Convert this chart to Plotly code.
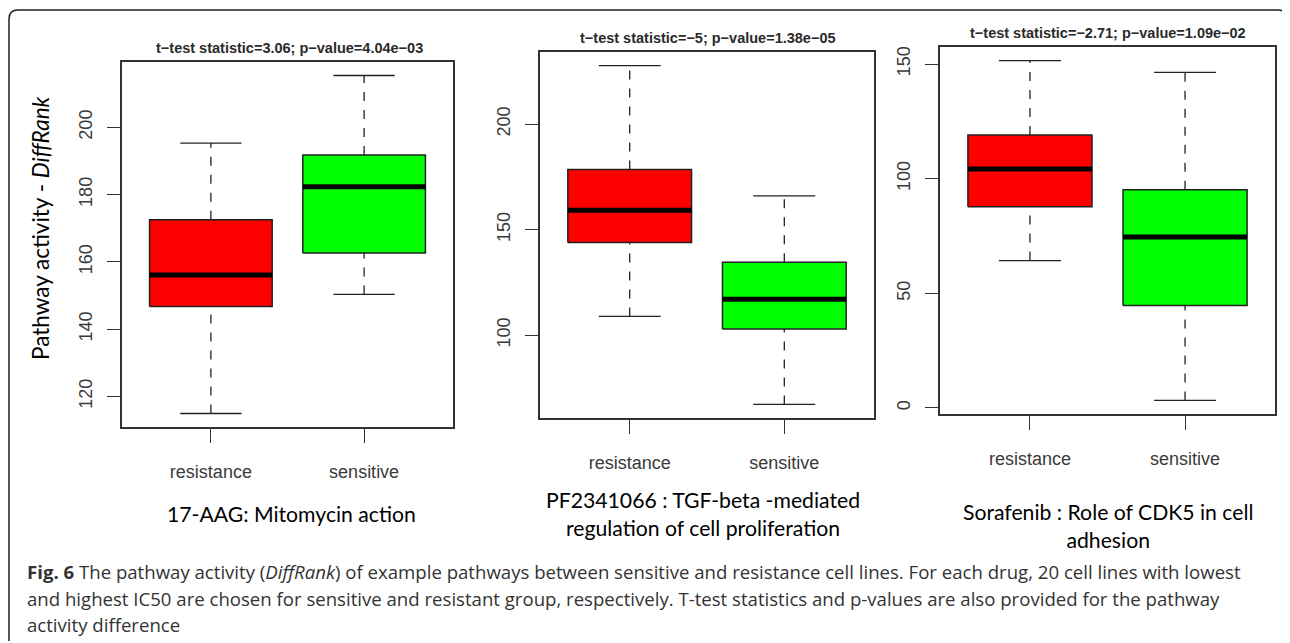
import plotly.graph_objects as go

W, H = 1290, 643
OFF = 8  # default page body margin; compensate so pixels map to the window

categories = ["resistance", "sensitive"]
colors = ["#FF0000", "#00FF00"]

# Panel 1: 17-AAG
p1_lower = [114.9, 150.3]
p1_q1 = [146.7, 162.6]
p1_median = [156.1, 182.3]
p1_q3 = [172.5, 191.8]
p1_upper = [195.3, 215.4]
p1_ticks = [120, 140, 160, 180, 200]

# Panel 2: PF2341066
p2_lower = [108.9, 67.2]
p2_q1 = [144.0, 103.0]
p2_median = [159.2, 117.1]
p2_q3 = [178.5, 134.6]
p2_upper = [227.8, 166.0]
p2_ticks = [100, 150, 200]

# Panel 3: Sorafenib
p3_lower = [64.3, 3.3]
p3_q1 = [87.8, 44.7]
p3_median = [104.2, 74.6]
p3_q3 = [119.0, 95.2]
p3_upper = [151.5, 146.4]
p3_ticks = [0, 50, 100, 150]

titles = [
    "t\u2212test statistic=3.06; p\u2212value=4.04e\u221203",
    "t\u2212test statistic=\u22125; p\u2212value=1.38e\u221205",
    "t\u2212test statistic=\u22122.71; p\u2212value=1.09e\u221202",
]
subtitles = [
    "17-AAG: Mitomycin action",
    "PF2341066 : TGF-beta -mediated<br>regulation of cell proliferation",
    "Sorafenib : Role of CDK5 in cell<br>adhesion",
]
caption_lines = [
    "<b>Fig. 6</b> The pathway activity (<i>DiffRank</i>) of example pathways between sensitive and resistance cell lines. For each drug, 20 cell lines with lowest",
    "and highest IC50 are chosen for sensitive and resistant group, respectively. T-test statistics and p-values are also provided for the pathway",
    "activity difference",
]

panels = [
    dict(stats=(p1_lower, p1_q1, p1_median, p1_q3, p1_upper), ticks=p1_ticks,
         box=(122, 453, 62, 427), title_xy=(289, 48), sub_xy=(291, 514)),
    dict(stats=(p2_lower, p2_q1, p2_median, p2_q3, p2_upper), ticks=p2_ticks,
         box=(540, 874, 52, 418), title_xy=(708, 38), sub_xy=(703, 514)),
    dict(stats=(p3_lower, p3_q1, p3_median, p3_q3, p3_upper), ticks=p3_ticks,
         box=(940, 1275, 47, 414), title_xy=(1108, 33), sub_xy=(1108, 526)),
]

FW, FH = W - OFF, H - OFF


def px(x):
    return (x - OFF) / FW


def py(y):
    return 1 - (y - OFF) / FH


fig = go.Figure()
layout = dict(
    width=FW, height=FH, margin=dict(l=0, r=0, t=0, b=0, autoexpand=False),
    paper_bgcolor="white", plot_bgcolor="white", showlegend=False,
)
annotations = []
BOXW = 0.8
CAPW = 0.4
axis_color = "#333333"
tick_font = dict(family="Liberation Sans, Arial, sans-serif", size=18, color="#3a3a3a")

for k, p in enumerate(panels):
    n = "" if k == 0 else str(k + 1)
    xa, ya = "x" + n, "y" + n
    lower, q1, med, q3, upper = p["stats"]
    for i, cat in enumerate(categories):
        c = i + 1
        fig.add_trace(go.Scatter(x=[c, c], y=[q3[i], upper[i]], mode="lines",
                                 line=dict(color="#222", width=1.3, dash="dash"),
                                 xaxis=xa, yaxis=ya, hoverinfo="skip"))
        fig.add_trace(go.Scatter(x=[c, c], y=[lower[i], q1[i]], mode="lines",
                                 line=dict(color="#222", width=1.3, dash="dash"),
                                 xaxis=xa, yaxis=ya, hoverinfo="skip"))
        for v in (lower[i], upper[i]):
            fig.add_trace(go.Scatter(x=[c - CAPW / 2, c + CAPW / 2], y=[v, v], mode="lines",
                                     line=dict(color="#222", width=1.3),
                                     xaxis=xa, yaxis=ya, hoverinfo="skip"))
        fig.add_trace(go.Scatter(
            x=[c - BOXW / 2, c + BOXW / 2, c + BOXW / 2, c - BOXW / 2, c - BOXW / 2],
            y=[q1[i], q1[i], q3[i], q3[i], q1[i]], mode="lines", fill="toself",
            fillcolor=colors[i], line=dict(color="#222", width=1.5),
            xaxis=xa, yaxis=ya, name=cat, hoverinfo="skip"))
        fig.add_trace(go.Scatter(x=[c - BOXW / 2, c + BOXW / 2], y=[med[i], med[i]], mode="lines",
                                 line=dict(color="black", width=5),
                                 xaxis=xa, yaxis=ya, hoverinfo="skip"))
    lo = min(lower)
    hi = max(upper)
    pad = 0.04 * (hi - lo)
    x0, x1, y0, y1 = p["box"]
    layout["xaxis" + n] = dict(
        domain=[px(x0), px(x1)], range=[0.42, 2.58], anchor=ya,
        tickvals=[1, 2], ticktext=categories, ticks="outside", ticklen=14,
        tickcolor=axis_color, tickwidth=1.2, showline=True, linecolor=axis_color,
        linewidth=1.5, mirror=True, showgrid=False, zeroline=False,
        tickfont=tick_font, ticklabelstandoff=14, fixedrange=True,
    )
    layout["yaxis" + n] = dict(
        domain=[py(y1), py(y0)], range=[lo - pad, hi + pad], anchor=xa,
        tickvals=p["ticks"], ticks="outside", ticklen=13, tickangle=-90,
        tickcolor=axis_color, tickwidth=1.2, showline=True, linecolor=axis_color,
        linewidth=1.5, mirror=True, showgrid=False, zeroline=False,
        tickfont=tick_font, ticklabelstandoff=8, fixedrange=True,
    )
    annotations.append(dict(
        text="<b>" + titles[k] + "</b>", x=px(p["title_xy"][0]), y=py(p["title_xy"][1]),
        xref="paper", yref="paper", showarrow=False, xanchor="center", yanchor="middle",
        font=dict(family="Liberation Sans, Arial, sans-serif", size=14.5, color="#2a2a2a"),
    ))
    annotations.append(dict(
        text=subtitles[k], x=px(p["sub_xy"][0]), y=py(p["sub_xy"][1]),
        xref="paper", yref="paper", showarrow=False, xanchor="center", yanchor="middle",
        font=dict(family="Lato, sans-serif", size=21.2, color="black"),
    ))

annotations.append(dict(
    text="Pathway activity - <i>DiffRank</i>", x=px(40), y=py(228), textangle=-90,
    xref="paper", yref="paper", showarrow=False, xanchor="center", yanchor="middle",
    font=dict(family="Lato, sans-serif", size=22.5, color="black"),
))

for j, line in enumerate(caption_lines):
    annotations.append(dict(
        text=line, x=px(25), y=py(571.5 + 26.5 * j), xref="paper", yref="paper",
        showarrow=False, xanchor="left", yanchor="middle", align="left",
        font=dict(family="Open Sans, sans-serif", size=18.6, color="#333"),
    ))

layout["annotations"] = annotations

r = 9
L, T, R, B = 9, 10, 1287, 641
path = (f"M {px(L)},{py(B)} L {px(L)},{py(T + r)} Q {px(L)},{py(T)} {px(L + r)},{py(T)} "
        f"L {px(R - r)},{py(T)} Q {px(R)},{py(T)} {px(R)},{py(T + r)} L {px(R)},{py(B)}")
layout["shapes"] = [dict(type="path", path=path, xref="paper", yref="paper",
                         line=dict(color="#222", width=1.5))]

fig.update_layout(**layout)
fig.write_html("out.html")
